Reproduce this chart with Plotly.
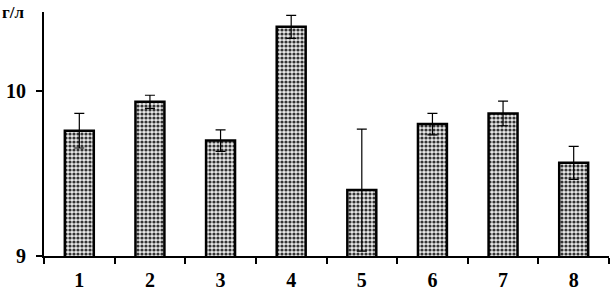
import plotly.graph_objects as go

categories = ["1", "2", "3", "4", "5", "6", "7", "8"]
values = [9.76, 9.935, 9.70, 10.39, 9.40, 9.80, 9.865, 9.565]
errors = [0.105, 0.04, 0.065, 0.07, 0.37, 0.065, 0.075, 0.10]
y_tick_vals = [9, 10]
y_tick_text = ["9", "10"]
unit_label = "г/л"

font_family = "Liberation Serif"

fig = go.Figure()
fig.add_trace(go.Bar(
    x=categories,
    y=values,
    marker=dict(
        color="white",
        line=dict(color="black", width=2.5),
        pattern=dict(shape=".", size=4, solidity=0.5, fgcolor="#333333", bgcolor="#e8e8e8", fillmode="replace"),
    ),
    error_y=dict(type="data", array=errors, visible=True, color="black", thickness=1.2, width=5),
    width=0.41,
))

fig.update_layout(
    width=613, height=290,
    margin=dict(l=44, r=4, t=12, b=34, autoexpand=False),
    paper_bgcolor="white", plot_bgcolor="white",
    showlegend=False,
    font=dict(family=font_family, color="black"),
    bargap=0.59,
)
fig.update_xaxes(
    showline=True, linecolor="black", linewidth=2,
    ticks="outside", ticklen=6, tickwidth=1.5, tickcolor="black",
    tickson="boundaries",
    showgrid=False, zeroline=False, automargin=False,
    tickfont=dict(family=font_family, size=20, color="black", weight="bold"),
    ticklabelstandoff=5,
)
fig.update_yaxes(
    range=[9, 10.48],
    showline=True, linecolor="black", linewidth=2,
    ticks="outside", ticklen=6, tickwidth=1.5, tickcolor="black",
    tickvals=y_tick_vals, ticktext=y_tick_text,
    showgrid=False, zeroline=False, automargin=False,
    tickfont=dict(family=font_family, size=20, color="black", weight="bold"),
    ticklabelstandoff=6,
)
fig.add_annotation(
    text=unit_label, xref="paper", yref="paper", x=-0.078, y=1.045,
    xanchor="left", yanchor="top", showarrow=False,
    font=dict(family=font_family, size=17, color="black", weight="bold"),
)

fig.write_html(
    "out.html",
    config={"displayModeBar": False},
    post_script="document.body.style.margin='0';document.body.style.overflow='hidden';",
)
